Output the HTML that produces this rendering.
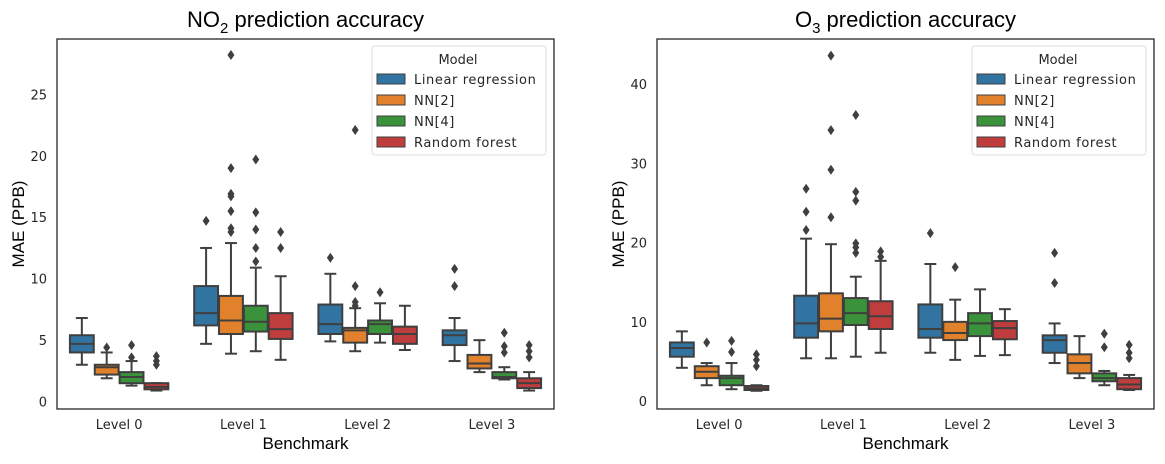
<!DOCTYPE html>
<html><head><meta charset="utf-8"><style>
body{margin:0;background:#fff;width:1165px;height:459px;overflow:hidden}
svg text{font-family:"Liberation Sans","DejaVu Sans",sans-serif}
svg text.dv{font-family:"DejaVu Sans","Liberation Sans",sans-serif}
</style></head><body>
<svg id="fig" width="1165" height="459" xmlns="http://www.w3.org/2000/svg"></svg>
<script>
const categories = ["Level 0","Level 1","Level 2","Level 3"];
const models = ["Linear regression","NN[2]","NN[4]","Random forest"];
const colors = ["#3274a1","#e1812c","#3a923a","#c03d3e"];
// each stat: [low whisker, Q1, median, Q3, high whisker], outliers array
const no2Stats = [
 [[3.0,4.0,4.7,5.4,6.8],[1.9,2.2,2.8,3.0,4.0],[1.3,1.5,2.0,2.4,3.3],[0.9,1.0,1.2,1.5,1.5]],
 [[4.7,6.2,7.2,9.4,12.5],[3.9,5.5,6.6,8.6,12.9],[4.1,5.7,6.5,7.8,10.9],[3.4,5.1,5.9,7.2,10.2]],
 [[4.9,5.5,6.3,7.9,10.4],[4.1,4.8,5.8,6.0,7.6],[4.8,5.5,6.3,6.6,8.0],[4.2,4.7,5.5,6.1,7.8]],
 [[3.3,4.6,5.4,5.8,6.8],[2.4,2.7,3.1,3.8,5.0],[1.8,1.9,2.0,2.4,2.8],[0.9,1.1,1.5,1.9,2.4]]
];
const no2Outliers = [
 [[],[4.4],[4.6,3.6],[3.7,3.3,3.0]],
 [[14.7],[28.2,19.0,16.9,16.7,15.5,14.1,13.8],[19.7,15.4,14.0,12.5,11.4],[13.8,12.5]],
 [[11.7],[22.1,9.4,8.1,7.8],[8.9],[]],
 [[10.8,9.4],[],[5.6,4.5,4.0],[4.6,4.1,3.6]]
];
const o3Stats = [
 [[4.2,5.6,6.7,7.4,8.8],[2.0,2.9,3.7,4.4,4.8],[1.5,2.0,2.9,3.2,4.8],[1.3,1.4,1.6,1.9,2.0]],
 [[5.4,8.0,9.8,13.3,20.5],[5.4,8.8,10.4,13.6,19.8],[5.6,9.6,11.1,13.0,15.7],[6.1,9.1,10.7,12.6,17.7]],
 [[6.1,8.0,9.1,12.2,17.3],[5.2,7.7,8.6,10.0,12.8],[5.7,8.2,9.8,11.1,14.1],[5.8,7.8,9.2,10.1,11.6]],
 [[4.8,6.1,7.7,8.3,9.8],[2.9,3.5,4.8,5.9,8.2],[2.0,2.5,2.9,3.5,3.8],[1.4,1.5,2.1,2.9,3.3]]
];
const o3Outliers = [
 [[],[7.4],[7.6,6.2],[5.9,5.2,4.4]],
 [[26.8,23.9,21.6],[43.6,34.2,29.2,23.2],[36.1,26.4,25.3,19.9,19.4,18.7],[18.9,18.2]],
 [[21.2],[16.9],[],[]],
 [[18.7,14.9],[],[8.5,6.8],[7.1,6.1,5.4]]
];
const no2Ticks = [0,5,10,15,20,25];
const o3Ticks = [0,10,20,30,40];

const NS="http://www.w3.org/2000/svg";
const fig=document.getElementById('fig');
function mk(tag,attrs,parent){const e=document.createElementNS(NS,tag);for(const k in attrs)e.setAttribute(k,attrs[k]);(parent||fig).appendChild(e);return e;}

function panel(px,titleMain,titleSub,stats,outliers,ticks,yMin,yMax,id){
  const L=px,R=px+497,T=39,B=409;
  const g=mk('g',{});
  
  
  const y=v=>B-(v-yMin)/(yMax-yMin)*(B-T);
  const bw=(R-L)/categories.length;
  const x=(ci,mi)=>L+bw*(ci+0.5)+(mi-1.5)*bw*0.2;
  const t=mk('text',{x:(L+R)/2,y:27,'text-anchor':'middle','font-size':22,fill:'#000'},g);
  
  
  t.innerHTML=titleMain+'<tspan font-size="15" dy="6">'+titleSub+'</tspan><tspan dy="-6"> prediction accuracy</tspan>';
  ticks.forEach(v=>{
    const tl=mk('text',{class:'dv',x:L-10,y:y(v)+5,'text-anchor':'end','font-size':13,fill:'#262626'},g);
    
    
    tl.textContent=v;
  });
  categories.forEach((c,ci)=>{
    const tl=mk('text',{class:'dv',x:L+bw*(ci+0.5),y:429,'text-anchor':'middle','font-size':13,fill:'#262626'},g);
    
    
    tl.textContent=c;
  });
  const yl=mk('text',{x:0,y:0,transform:`translate(${L-33},${(T+B)/2}) rotate(-90)`,'text-anchor':'middle','font-size':17,fill:'#000'},g);
  
  
  yl.textContent='MAE (PPB)';
  const xl=mk('text',{x:(L+R)/2,y:449,'text-anchor':'middle','font-size':17,fill:'#000'},g);
  
  
  xl.textContent='Benchmark';
  const hw=bw*0.2/2-0.5;
  stats.forEach((grp,ci)=>grp.forEach((s,mi)=>{
    const cx=x(ci,mi);
    const bg=mk('g',{stroke:'#3f3f3f','stroke-width':2,fill:'none'},g);
    
    
    mk('line',{x1:cx,x2:cx,y1:y(s[0]),y2:y(s[1])},bg);
    mk('line',{x1:cx,x2:cx,y1:y(s[3]),y2:y(s[4])},bg);
    mk('line',{x1:cx-hw/2,x2:cx+hw/2,y1:y(s[0]),y2:y(s[0])},bg);
    mk('line',{x1:cx-hw/2,x2:cx+hw/2,y1:y(s[4]),y2:y(s[4])},bg);
    mk('rect',{x:cx-hw,y:y(s[3]),width:2*hw,height:Math.max(1,y(s[1])-y(s[3])),fill:colors[mi]},bg);
    mk('line',{x1:cx-hw,x2:cx+hw,y1:y(s[2]),y2:y(s[2])},bg);
    outliers[ci][mi].forEach(v=>{
      const cy=y(v);
      const d=mk('path',{d:`M${cx},${cy-5}L${cx+3.5},${cy}L${cx},${cy+5}L${cx-3.5},${cy}Z`,fill:'#3f3f3f',stroke:'none'},bg);
      
      
    });
  }));
  const fr=mk('rect',{x:L,y:T,width:R-L,height:B-T,fill:'none',stroke:'#262626','stroke-width':1.3},g);
  
  
  const lx=L+315,ly=46;
  const lg=mk('g',{},g);
  
  
  mk('rect',{x:lx,y:ly,width:174,height:109,rx:3,fill:'rgba(255,255,255,0.85)',stroke:'#ddd'},lg);
  const lt=mk('text',{class:'dv',x:lx+86,y:ly+18,'text-anchor':'middle','font-size':13,fill:'#262626'},lg);
  lt.textContent='Model';
  models.forEach((m,i)=>{
    const e=mk('g',{},lg);
    
    
    const ey=ly+34+i*21;
    mk('rect',{x:lx+5,y:ey-6,width:28,height:10,fill:colors[i],stroke:'#3f3f3f','stroke-width':1},e);
    const et=mk('text',{class:'dv',x:lx+42,y:ey+4,'font-size':13,fill:'#262626','letter-spacing':'0.6'},e);
    et.textContent=m;
  });
}
panel(57,'NO','2',no2Stats,no2Outliers,no2Ticks,-0.6,29.5,'no2');
panel(657,'O','3',o3Stats,o3Outliers,o3Ticks,-1.0,45.7,'o3');
</script>
</body></html>
